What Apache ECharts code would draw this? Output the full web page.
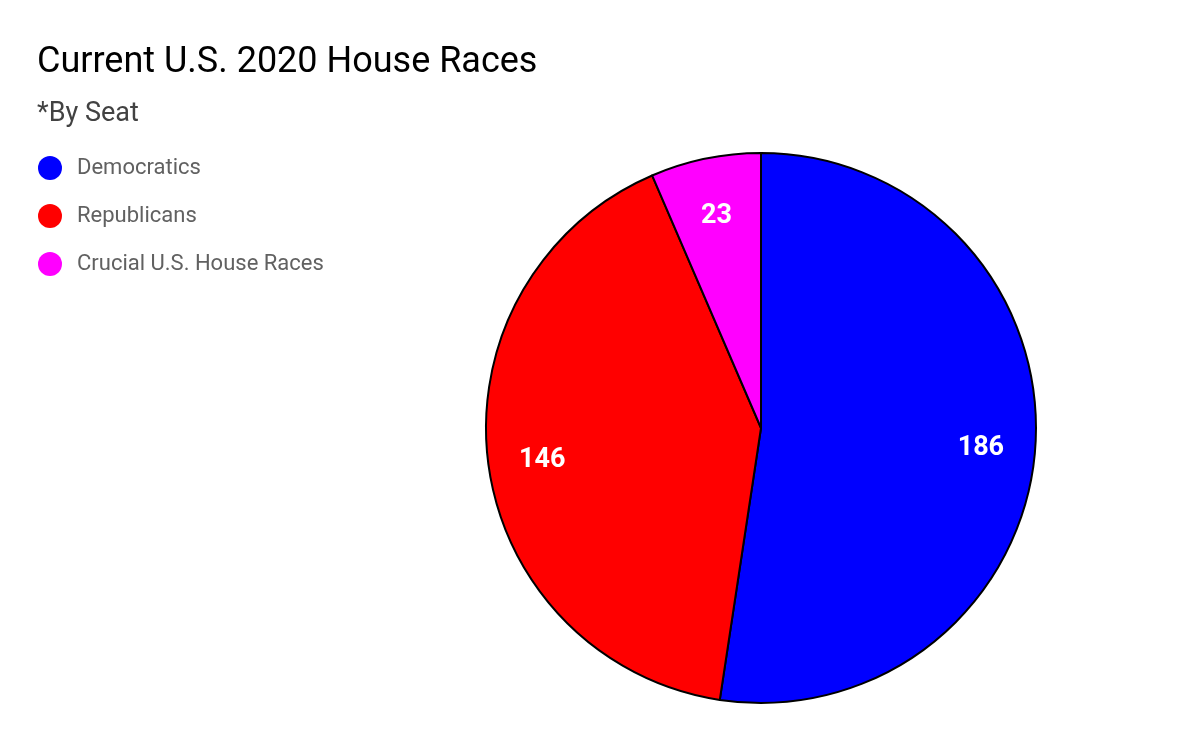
<!DOCTYPE html>
<html>
<head>
<meta charset="utf-8">
<script src="https://cdn.jsdelivr.net/npm/echarts@6/dist/echarts.min.js"></script>
<style>
  html, body { margin: 0; padding: 0; background: #fff; }
  #chart { width: 1200px; height: 742px; }
</style>
</head>
<body>
<div id="chart"></div>
<script>
// data
const parties = ['Democratics', 'Republicans', 'Crucial U.S. House Races'];
const seats = [186, 146, 23];
const colors = ['#0000ff', '#ff0000', '#ff00ff'];

const pieData = parties.map((name, i) => ({
  name: name,
  value: seats[i],
  itemStyle: { color: colors[i] }
}));

const chart = echarts.init(document.getElementById('chart'));
chart.setOption({
  animation: false,
  title: [
    {
      text: 'Current U.S. 2020 House Races',
      left: 37, top: 45,
      padding: 0,
      textStyle: { fontFamily: 'Roboto', fontSize: 36, fontWeight: 'normal', color: '#000' }
    },
    {
      text: '*By Seat',
      left: 37, top: 101,
      padding: 0,
      textStyle: { fontFamily: 'Roboto', fontSize: 27, fontWeight: 'normal', color: '#424242' }
    }
  ],
  legend: {
    orient: 'vertical',
    left: 38, top: 156,
    padding: 0,
    icon: 'circle',
    itemWidth: 24, itemHeight: 24,
    itemGap: 24,
    itemStyle: { borderWidth: 0 },
    textStyle: { fontFamily: 'Roboto', fontSize: 22, color: '#616161', padding: [0, 0, 0, 10] },
    data: parties
  },
  series: [
    {
      // slices
      type: 'pie',
      center: [761, 428],
      radius: 275,
      startAngle: 90,
      clockwise: true,
      label: { show: false },
      labelLine: { show: false },
      emphasis: { disabled: true },
      itemStyle: { borderColor: '#000', borderWidth: 2 },
      data: pieData
    },
    {
      // labels at ~80% radius
      type: 'pie',
      center: [761, 428],
      radius: [160, 275],
      startAngle: 90,
      clockwise: true,
      silent: true,
      legendHoverLink: false,
      itemStyle: { color: 'rgba(0,0,0,0)', borderWidth: 0 },
      label: {
        show: true, position: 'inside',
        formatter: '{c}',
        offset: [0, 4],
        fontFamily: 'Roboto', fontSize: 27, fontWeight: 'bold', color: '#fff'
      },
      labelLine: { show: false },
      data: parties.map((name, i) => ({ name: name + ' ', value: seats[i] }))
    }
  ]
});
</script>
</body>
</html>
